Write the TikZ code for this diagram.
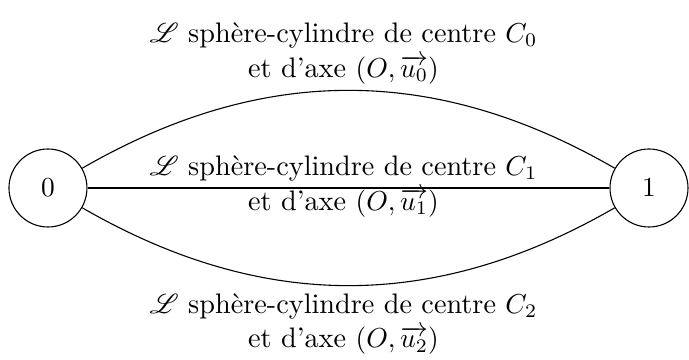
\documentclass[tikz,border=0pt]{standalone}
\usepackage{amsmath}
\usepackage{mathrsfs}
\begin{document}
\begin{tikzpicture}[x=1cm,y=1cm,
  state/.style={circle,draw,minimum size=1cm,inner sep=0pt},
  lbl/.style={align=center,font=\fontsize{10.3pt}{12.6pt}\selectfont,xshift=-0.064cm},
  edge/.style={draw}]
\useasboundingbox (-0.615,-2.205) rectangle (8.218,2.41);
\node[state] (q0) at (0,0) {$0$};
\node[state] (q1) at (7.705,0) {$1$};
\draw[edge] (q0) to[bend left=30]
  node[lbl,above,yshift=-1.3pt] (l0) {$\mathscr{L}$ sphère-cylindre de centre $C_0$\\ et d'axe $(O,\overrightarrow{u_0})$} (q1);
\draw[edge] (q0) --
  node[lbl,yshift=0.5pt] (l1) {$\mathscr{L}$ sphère-cylindre de centre $C_1$\\ et d'axe $(O,\overrightarrow{u_1})$} (q1);
\draw[edge] (q0) to[bend right=30]
  node[lbl,below,yshift=0.6pt] (l2) {$\mathscr{L}$ sphère-cylindre de centre $C_2$\\ et d'axe $(O,\overrightarrow{u_2})$} (q1);
\end{tikzpicture}
\end{document}
